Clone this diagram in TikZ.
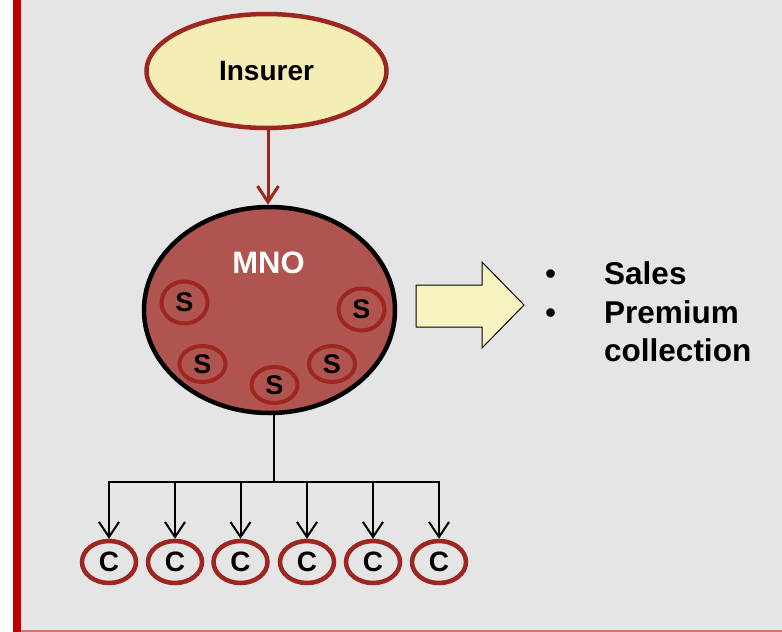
\documentclass[tikz,border=0pt]{standalone}
\usepackage{fontspec}
\setmainfont{Liberation Sans}
\usetikzlibrary{shapes.geometric,arrows.meta}

\definecolor{bgray}{HTML}{E5E5E5}
\definecolor{barred}{HTML}{C00000}
\definecolor{rimred}{HTML}{9E2620}
\definecolor{insfill}{HTML}{F4EEB4}
\definecolor{mnofill}{HTML}{B0544F}
\definecolor{arrowfill}{HTML}{F8F4C2}

\begin{document}
\begin{tikzpicture}[x=1pt, y=-1pt,
    sbox/.style={ellipse, draw=rimred, line width=4pt, inner sep=0pt, minimum width=46pt, font=\fontsize{27}{32}\selectfont\bfseries},
    cbox/.style={ellipse, draw=rimred, line width=4.5pt, inner sep=0pt, minimum width=54pt, minimum height=42pt, font=\fontsize{28}{34}\selectfont\bfseries},
    feed/.style={draw=rimred, line width=3pt, -{Straight Barb[length=16pt, width=21pt]}},
    tree/.style={draw=black, line width=2pt},
    treearrow/.style={tree, -{Straight Barb[length=15pt, width=20pt]}}]
    % Background
    \useasboundingbox (0,0) rectangle (782,632);
    \fill[white] (0,0) rectangle (782,632);
    \fill[bgray] (13,0) rectangle (782,632);
    \fill[barred] (13,0) rectangle (21,632);
    \draw[barred!50!bgray, line width=1.5pt] (21,631) -- (782,631);

    % Insurer
    \node[ellipse, draw=rimred, fill=insfill, line width=4.5pt, minimum width=240pt, minimum height=114pt, font=\fontsize{28}{34}\selectfont\bfseries] (insurer) at (266.5,71) {Insurer};

    % MNO
    \node[ellipse, draw=black, fill=mnofill, line width=4.5pt, minimum width=251pt, minimum height=206pt] (mno) at (269.5,310) {};
    \node[text=white, font=\fontsize{31}{37}\selectfont\bfseries] (mnolabel) at (268.5,263) {MNO};
    \coordinate (drop) at (268,0);
    \draw[feed] (drop |- insurer.south) -- (drop |- mno.north);

    % Sales staff
    \node[sbox, minimum height=42pt] (s1) at (184.5,302.5) {S};
    \node[sbox, minimum height=42pt] (s2) at (361.5,309.5) {S};
    \node[sbox, minimum height=36pt] (s3) at (202.5,364) {S};
    \node[sbox, minimum height=36pt] (s4) at (332,364) {S};
    \node[sbox, minimum height=36pt] (s5) at (274.5,385) {S};

    % Customers
    \node[cbox] (c1) at (109,562) {C};
    \node[cbox] (c2) at (175,562) {C};
    \node[cbox] (c3) at (240.5,562) {C};
    \node[cbox] (c4) at (307,562) {C};
    \node[cbox] (c5) at (373,562) {C};
    \node[cbox] (c6) at (439,562) {C};

    % Tree
    \coordinate (bus) at (274,482);
    \draw[tree] (bus |- mno.south) -- (bus);
    \draw[treearrow] (bus) -| (c1.north);
    \draw[treearrow] (bus) -| (c2.north);
    \draw[treearrow] (bus) -| (c3.north);
    \draw[treearrow] (bus) -| (c4.north);
    \draw[treearrow] (bus) -| (c5.north);
    \draw[treearrow] (bus) -| (c6.north);

    % Block arrow
    \draw[fill=arrowfill, line width=1pt] (416,285) -- (482,285) -- (482,262) -- (524,305)
        -- (482,348) -- (482,327) -- (416,327) -- cycle;

    % Roles
    \node[anchor=west, inner sep=0pt, align=left, font=\fontsize{31.5}{38.5}\selectfont\bfseries] (roles) at (545,312)
        {\makebox[59pt][l]{\mdseries\textbullet}Sales\\
         \makebox[59pt][l]{\mdseries\textbullet}Premium\\
         \hspace*{59pt}collection};
\end{tikzpicture}
\end{document}
